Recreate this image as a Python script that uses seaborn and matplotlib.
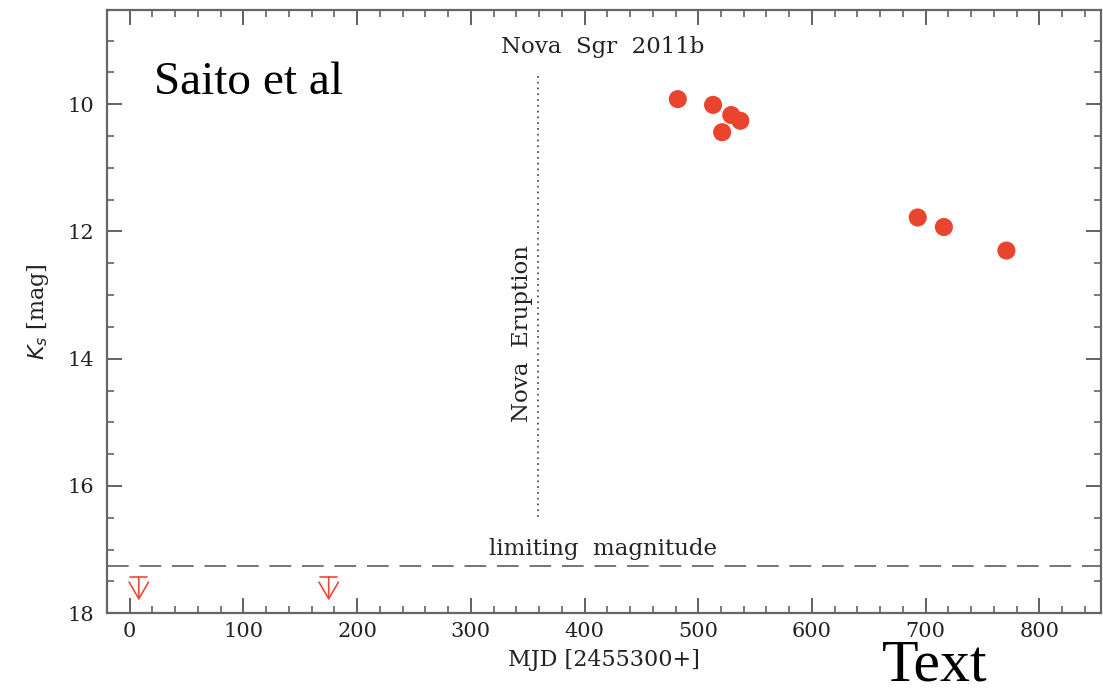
import matplotlib
matplotlib.use("Agg")
import matplotlib.pyplot as plt
from matplotlib.ticker import MultipleLocator
import seaborn as sns
import pandas as pd

# Ks-band light curve of Nova Sgr 2011b
mjd = [482, 513, 529, 537, 521, 693, 716, 771]
ks_mag = [9.92, 10.01, 10.17, 10.26, 10.44, 11.78, 11.93, 12.30]

# pre-eruption non-detections (upper limits)
limit_mjd = [8, 175]
limit_mag = [17.43, 17.43]

eruption_mjd = 359
limiting_mag = 17.26

x_ticks = [0, 100, 200, 300, 400, 500, 600, 700, 800]
y_ticks = [10, 12, 14, 16, 18]

sns.set_style("ticks")
plt.rcParams["font.family"] = ["DejaVu Serif", "DejaVu Sans"]

fig = plt.figure(figsize=(11.03, 6.96), dpi=100)
ax = fig.add_axes([0.097, 0.119, 0.901, 0.8665])

df = pd.DataFrame({"mjd": mjd, "ks": ks_mag})
sns.scatterplot(data=df, x="mjd", y="ks", ax=ax, s=170, color="#e8442e",
                edgecolor="none", zorder=3)

red = "#f0463c"
for xm, ym in zip(limit_mjd, limit_mag):
    ax.plot([xm - 7.5, xm + 7.5], [ym, ym], color=red, lw=1.2, zorder=3)
    ax.annotate("", xy=(xm, ym + 0.37), xytext=(xm, ym),
                arrowprops=dict(arrowstyle="->,head_length=0.6,head_width=0.35",
                                mutation_scale=20, color=red, lw=1.2,
                                shrinkA=0, shrinkB=0))

label_kw = dict(fontsize=16.5, color="#222222")

ax.axhline(limiting_mag, color="#6a6a6a", lw=1.3, dashes=(12, 6), zorder=1)
ax.text(416, 16.99, "limiting  magnitude", ha="center", va="center", **label_kw)

ax.plot([eruption_mjd, eruption_mjd], [9.56, 16.5], color="#555555", lw=1.3,
        linestyle=(0, (1, 2.2)), zorder=1)
ax.text(eruption_mjd - 14, 13.6, "Nova  Eruption", rotation=90, ha="center",
        va="center", **label_kw)
ax.text(416, 9.10, "Nova  Sgr  2011b", ha="center", va="center", **label_kw)

ax.text(0.047, 0.879, "Saito et al", transform=ax.transAxes, fontsize=34,
        family="Liberation Serif", ha="left", va="center", color="black")
fig.text(0.847, 0.004, "Text", fontsize=43, family="Liberation Serif",
         ha="center", va="bottom", color="black")

ax.set_xlim(-20, 854)
ax.set_ylim(18, 8.52)
ax.set_xticks(x_ticks)
ax.set_yticks(y_ticks)
ax.xaxis.set_minor_locator(MultipleLocator(20))
ax.yaxis.set_minor_locator(MultipleLocator(0.5))
ax.tick_params(which="both", direction="in", top=True, right=True,
               color="#555555", labelsize=15, labelcolor="#222222")
ax.tick_params(which="major", length=11, width=1.3, pad=6)
ax.tick_params(axis="y", which="major", pad=9)
ax.tick_params(which="minor", length=5, width=1.1)
for sp in ax.spines.values():
    sp.set_color("#666666")
    sp.set_linewidth(1.6)

ax.set_xlabel("MJD [2455300+]", fontsize=16, color="#222222", labelpad=6)
ax.set_ylabel(r"$K_s$ [mag]", fontsize=16, color="#222222", labelpad=12)

fig.savefig("out.png", dpi=100)
